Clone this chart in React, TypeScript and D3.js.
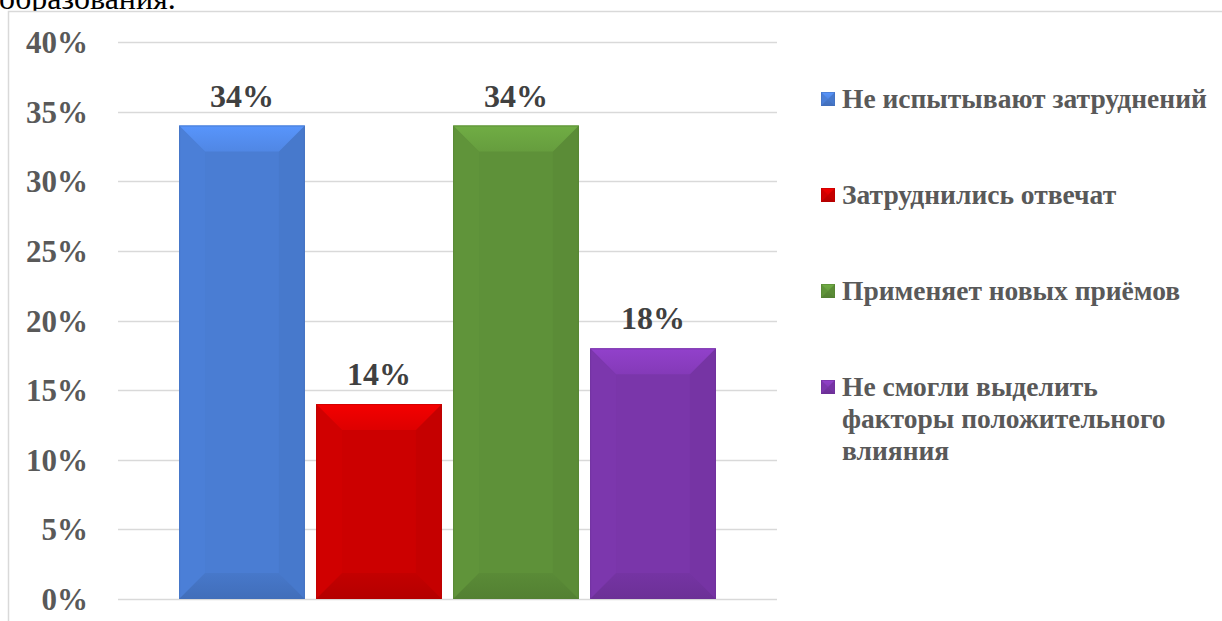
import * as d3 from 'd3'

// series (one category, four answers)
const seriesNames = [
  'Не испытывают затруднений',
  'Затруднились отвечат',
  'Применяет новых приёмов',
  'Не смогли выделить факторы положительного влияния',
]
const seriesValues = [34, 14, 34, 18]
const seriesColors = ['#4a7dd3', '#cc0000', '#5e9139', '#7a36aa']
const legendLines = [
  ['Не испытывают затруднений'],
  ['Затруднились отвечат'],
  ['Применяет новых приёмов'],
  ['Не смогли выделить', 'факторы положительного', 'влияния'],
]
const yTicks = [0, 5, 10, 15, 20, 25, 30, 35, 40]

const W = 1222
const H = 621
const FONT = '"Liberation Serif", "Times New Roman", serif'

function BevelBar({ x, y, w, h, color, id }: { x: number; y: number; w: number; h: number; color: string; id: string }) {
  const d = Math.min(26, h / 2, w / 2)
  const c = d3.color(color)!
  const light = c.brighter(0.22).formatHex()
  const lighter = c.brighter(0.5).formatHex()
  const dark = c.darker(0.12).formatHex()
  const darker = c.darker(0.35).formatHex()
  const left = c.brighter(0.05).formatHex()
  const right = c.darker(0.1).formatHex()
  const pts = (p: number[][]) => p.map(q => q.join(',')).join(' ')
  return (
    <g>
      <defs>
        <linearGradient id={`${id}-top`} x1="0" y1="0" x2="0" y2="1">
          <stop offset="0%" stopColor={lighter} />
          <stop offset="100%" stopColor={light} />
        </linearGradient>
        <linearGradient id={`${id}-bot`} x1="0" y1="0" x2="0" y2="1">
          <stop offset="0%" stopColor={dark} />
          <stop offset="100%" stopColor={darker} />
        </linearGradient>
      </defs>
      <rect x={x} y={y} width={w} height={h} fill={color} />
      <polygon points={pts([[x, y], [x + d, y + d], [x + d, y + h - d], [x, y + h]])} fill={left} />
      <polygon points={pts([[x + w, y], [x + w - d, y + d], [x + w - d, y + h - d], [x + w, y + h]])} fill={right} />
      <polygon points={pts([[x, y], [x + w, y], [x + w - d, y + d], [x + d, y + d]])} fill={`url(#${id}-top)`} />
      <polygon points={pts([[x, y + h], [x + w, y + h], [x + w - d, y + h - d], [x + d, y + h - d]])} fill={`url(#${id}-bot)`} />
      <rect x={x + 0.5} y={y + 0.5} width={w - 1} height={h - 1} fill="none" stroke={darker} strokeOpacity={0.5} />
    </g>
  )
}

export default function App() {
  const plotLeft = 118
  const plotRight = 777
  const yScale = d3.scaleLinear().domain([0, 40]).range([599, 42])
  const xScale = d3.scaleBand<number>()
    .domain(d3.range(seriesValues.length))
    .range([plotLeft, plotRight])
    .paddingInner(0.082)
    .paddingOuter(0.446)

  return (
    <svg width={W} height={H} style={{ position: 'absolute', left: 0, top: 0, background: '#fff' }} fontFamily={FONT}>
      <text x={-1} y={9} fontSize={32} fill="#000">образования.</text>
      <rect x={8.5} y={11.5} width={W + 10} height={H + 10} fill="#fff" stroke="#d9d9d9" strokeWidth={1.5} />

      {yTicks.map(t => (
        <g key={t}>
          <line x1={plotLeft} x2={plotRight} y1={Math.round(yScale(t)) + 0.5} y2={Math.round(yScale(t)) + 0.5} stroke="#d9d9d9" strokeWidth={1.5} />
          <text x={88} y={yScale(t)} dy={11} textAnchor="end" fontSize={31} fontWeight="bold" fill="#595959">{t}%</text>
        </g>
      ))}

      {seriesValues.map((v, i) => {
        const x = xScale(i)!
        const w = xScale.bandwidth()
        const y = yScale(v)
        return (
          <g key={i}>
            <BevelBar x={x} y={y} w={w} h={yScale(0) - y} color={seriesColors[i]} id={`bar${i}`} />
            <text x={x + w / 2} y={y - 19} textAnchor="middle" fontSize={32} fontWeight="bold" fill="#404040">{v}%</text>
          </g>
        )
      })}

      {seriesNames.map((name, i) => {
        const base = 108 + i * 96
        return (
          <g key={name}>
            <BevelBar x={821} y={base - 16} w={14} h={14} color={seriesColors[i]} id={`leg${i}`} />
            {legendLines[i].map((line, j) => (
              <text key={j} x={842} y={base + j * 32} fontSize={27.5} fontWeight="bold" fill="#595959">{line}</text>
            ))}
          </g>
        )
      })}
    </svg>
  )
}
